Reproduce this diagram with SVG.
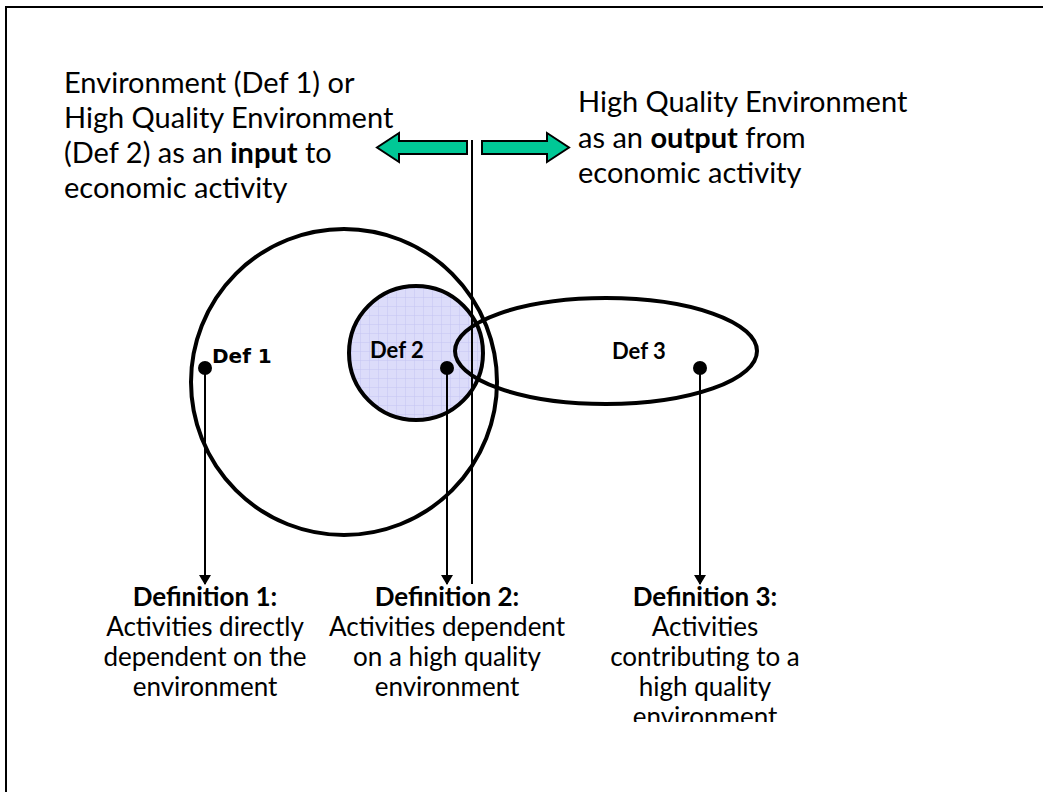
<svg xmlns="http://www.w3.org/2000/svg" width="1043" height="792" viewBox="0 0 1043 792">
<style>
.t{font-family:Lato,"Open Sans",sans-serif;fill:#000}
.top{font-size:29px}
.bot{font-size:26px;text-anchor:middle}
.b{font-weight:bold}
.lbl{font-family:"DejaVu Sans",sans-serif;font-weight:bold;font-size:20px}
.lbl2{font-family:Lato,sans-serif;font-weight:bold;font-size:22px}
.ln{stroke:#000;stroke-width:2;fill:none}
.sh{stroke:#000;stroke-width:4;fill:none}
.garrow{fill:#00c896;stroke:#000;stroke-width:2}
</style>
<defs>
<pattern id="grid" width="9" height="9" patternUnits="userSpaceOnUse">
<rect width="9" height="9" fill="#dcdcfa"/>
<path d="M0 0H9M0 0V9" stroke="#c4c4f2" stroke-width="1"/>
</pattern>
<marker id="ah" markerWidth="10" markerHeight="12" refX="9" refY="6" orient="auto" markerUnits="userSpaceOnUse">
<path d="M0 0L10 6L0 12z" fill="#000"/>
</marker>
<clipPath id="clipbot"><rect x="0" y="0" width="1043" height="722"/></clipPath>
</defs>
<rect x="6" y="7" width="1050" height="800" fill="none" stroke="#000" stroke-width="2"/>

<g id="text-input">
<text class="t top" x="64" y="93">Environment (Def 1) or</text>
<text class="t top" x="64" y="128">High Quality Environment</text>
<text class="t top" x="64" y="163">(Def 2) as an <tspan class="b">input</tspan> to</text>
<text class="t top" x="64" y="198">economic activity</text>
</g>
<g id="text-output">
<text class="t top" x="578" y="112">High Quality Environment</text>
<text class="t top" x="578" y="148">as an <tspan class="b">output</tspan> from</text>
<text class="t top" x="578" y="183">economic activity</text>
</g>

<g id="arrow-left">
<path class="garrow" d="M467 141H399V133L377 147.5L399 162V154H467Z"/>
</g>
<g id="arrow-right">
<path class="garrow" d="M482 141H547V133L569 147.5L547 162V154H482Z"/>
</g>

<g id="def1">
<circle class="sh" cx="344" cy="382" r="153"/>
<text class="lbl" x="212" y="363">Def 1</text>
</g>
<g id="def2">
<circle cx="416" cy="353" r="67" fill="url(#grid)" stroke="#000" stroke-width="4"/>
<text class="lbl2" x="370" y="358">Def 2</text>
</g>
<g id="def3">
<ellipse class="sh" cx="606" cy="351" rx="151" ry="53"/>
<text class="lbl2" x="612" y="359">Def 3</text>
</g>

<g id="divider">
<line class="ln" x1="472" y1="140" x2="472" y2="584"/>
</g>

<g id="connectors">
<circle cx="205" cy="368" r="7" fill="#000"/>
<line class="ln" x1="205" y1="368" x2="205" y2="584" marker-end="url(#ah)"/>
<circle cx="447" cy="368" r="7" fill="#000"/>
<line class="ln" x1="447" y1="368" x2="447" y2="584" marker-end="url(#ah)"/>
<circle cx="700" cy="368" r="7" fill="#000"/>
<line class="ln" x1="700" y1="368" x2="700" y2="584" marker-end="url(#ah)"/>
</g>

<g id="definition1">
<text class="t bot b" x="205" y="606">Definition 1:</text>
<text class="t bot" x="205" y="636">Activities directly</text>
<text class="t bot" x="205" y="666">dependent on the</text>
<text class="t bot" x="205" y="696">environment</text>
</g>
<g id="definition2">
<text class="t bot b" x="447" y="606">Definition 2:</text>
<text class="t bot" x="447" y="636">Activities dependent</text>
<text class="t bot" x="447" y="666">on a high quality</text>
<text class="t bot" x="447" y="696">environment</text>
</g>
<g id="definition3" clip-path="url(#clipbot)">
<text class="t bot b" x="705" y="606">Definition 3:</text>
<text class="t bot" x="705" y="636">Activities</text>
<text class="t bot" x="705" y="666">contributing to a</text>
<text class="t bot" x="705" y="696">high quality</text>
<text class="t bot" x="705" y="726">environment</text>
</g>
</svg>
